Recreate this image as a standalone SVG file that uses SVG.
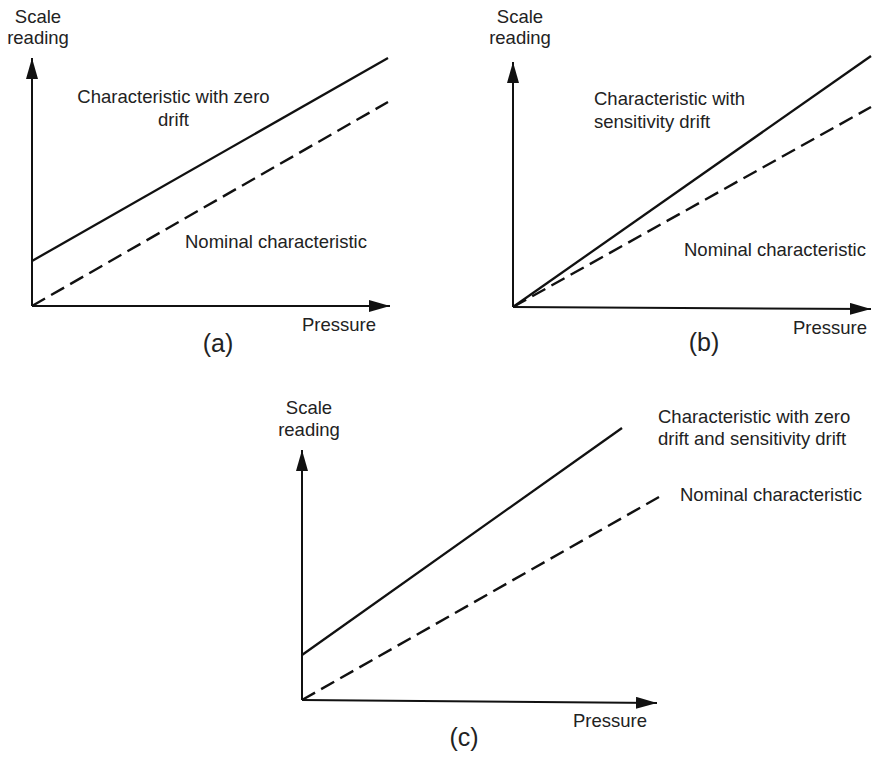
<svg xmlns="http://www.w3.org/2000/svg" width="872" height="757" viewBox="0 0 872 757">
<defs>
<marker id="arr" markerWidth="21" markerHeight="12" refX="21" refY="6" orient="auto" markerUnits="userSpaceOnUse"><path d="M0,0 L21,6 L0,12 Z" fill="#111"/></marker>
<style>
text{font-family:"Liberation Sans",Arial,sans-serif;font-size:18.5px;fill:#222}
.cap{font-size:25px}
.mid{text-anchor:middle}
.ax{stroke:#111;stroke-width:2;fill:none}
.sol{stroke:#111;stroke-width:2.3;fill:none}
.dash{stroke:#111;stroke-width:2.4;fill:none;stroke-dasharray:15 7}
</style>
</defs>
<rect width="872" height="757" fill="#fff"/>
<g id="connectors">
<line class="ax" x1="32" y1="306" x2="32" y2="58" marker-end="url(#arr)"/>
<line class="ax" x1="32" y1="306" x2="390" y2="306" marker-end="url(#arr)"/>
<line class="sol" x1="32" y1="261" x2="388" y2="58"/>
<line class="dash" x1="32" y1="306" x2="388" y2="102"/>
<line class="ax" x1="513" y1="307" x2="513" y2="62" marker-end="url(#arr)"/>
<line class="ax" x1="513" y1="307" x2="871" y2="309" marker-end="url(#arr)"/>
<line class="sol" x1="513" y1="307" x2="871" y2="56"/>
<line class="dash" x1="513" y1="307" x2="871" y2="107"/>
<line class="ax" x1="302" y1="700" x2="302" y2="450" marker-end="url(#arr)"/>
<line class="ax" x1="302" y1="700" x2="657" y2="703" marker-end="url(#arr)"/>
<line class="sol" x1="302" y1="655" x2="622" y2="428"/>
<line class="dash" x1="302" y1="700" x2="659" y2="497"/>
</g>
<g id="panel-a">
<g id="a-ylabel"><text class="mid" x="38" y="23">Scale</text><text class="mid" x="38" y="44">reading</text></g>
<g id="a-zero"><text class="mid" x="173.5" y="103">Characteristic with zero</text><text class="mid" x="173.5" y="126">drift</text></g>
<g id="a-nominal"><text x="185" y="248">Nominal characteristic</text></g>
<g id="a-xlabel"><text x="302" y="331">Pressure</text></g>
<g id="a-caption"><text class="cap mid" x="218" y="352">(a)</text></g>
</g>
<g id="panel-b">
<g id="b-ylabel"><text class="mid" x="520" y="23">Scale</text><text class="mid" x="520" y="44">reading</text></g>
<g id="b-sens"><text x="594" y="105">Characteristic with</text><text x="594" y="128">sensitivity drift</text></g>
<g id="b-nominal"><text x="684" y="256">Nominal characteristic</text></g>
<g id="b-xlabel"><text x="793" y="334">Pressure</text></g>
<g id="b-caption"><text class="cap mid" x="704" y="351">(b)</text></g>
</g>
<g id="panel-c">
<g id="c-ylabel"><text class="mid" x="309" y="414">Scale</text><text class="mid" x="309" y="436">reading</text></g>
<g id="c-both"><text x="658" y="423">Characteristic with zero</text><text x="658" y="445">drift and sensitivity drift</text></g>
<g id="c-nominal"><text x="680" y="501">Nominal characteristic</text></g>
<g id="c-xlabel"><text x="573" y="727">Pressure</text></g>
<g id="c-caption"><text class="cap mid" x="464" y="746">(c)</text></g>
</g>
</svg>
